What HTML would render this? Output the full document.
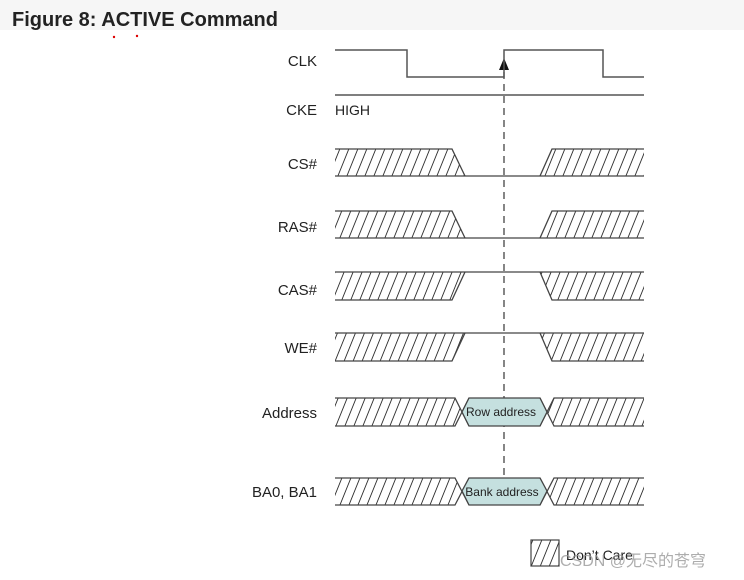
<!DOCTYPE html>
<html><head><meta charset="utf-8"><style>
html,body{margin:0;padding:0;background:#fff;width:744px;height:580px;overflow:hidden}
svg{display:block}
text{font-family:"Liberation Sans","Noto Sans CJK SC",sans-serif}
</style></head><body>
<svg width="744" height="580" viewBox="0 0 744 580" xmlns="http://www.w3.org/2000/svg">
<defs>
<pattern id="h" patternUnits="userSpaceOnUse" width="9" height="30" patternTransform="skewX(-22)">
<line x1="4" y1="0" x2="4" y2="30" stroke="#333" stroke-width="1"/>
</pattern>
</defs>
<rect width="744" height="30" fill="#f6f6f6"/>
<text x="12" y="26" font-size="20" font-weight="bold" fill="#222">Figure 8: ACTIVE Command</text>
<circle cx="114" cy="37" r="1.2" fill="#d00"/><circle cx="137" cy="36" r="1.2" fill="#d00"/>

<g font-size="15" fill="#222" text-anchor="end">
<text x="317" y="66">CLK</text>
<text x="317" y="115">CKE</text>
<text x="317" y="169">CS#</text>
<text x="317" y="232">RAS#</text>
<text x="317" y="295">CAS#</text>
<text x="317" y="353">WE#</text>
<text x="317" y="418">Address</text>
<text x="317" y="497">BA0, BA1</text>
</g>
<text x="335" y="115" font-size="14" fill="#222">HIGH</text>

<line x1="504" y1="60" x2="504" y2="478" stroke="#444" stroke-width="1.3" stroke-dasharray="7,5"/>
<polygon points="504,58 499,70 509,70" fill="#111"/>

<g stroke="#555" stroke-width="1.5" fill="none">
<polyline points="335,50 407,50 407,77 504,77 504,50 603,50 603,77 644,77"/>
<line x1="335" y1="95" x2="644" y2="95"/>
</g>

<g stroke="#444" stroke-width="1.3">
<path d="M335,149 L452,149 L465,176 L335,176 Z" fill="url(#h)" stroke="none"/>
<path d="M552,149 L644,149 L644,176 L540,176 Z" fill="url(#h)" stroke="none"/>
<polyline points="335,149 452,149 465,176" fill="none"/>
<line x1="335" y1="176" x2="644" y2="176"/>
<polyline points="540,176 552,149 644,149" fill="none"/>

<path d="M335,211 L452,211 L465,238 L335,238 Z" fill="url(#h)" stroke="none"/>
<path d="M552,211 L644,211 L644,238 L540,238 Z" fill="url(#h)" stroke="none"/>
<polyline points="335,211 452,211 465,238" fill="none"/>
<line x1="335" y1="238" x2="644" y2="238"/>
<polyline points="540,238 552,211 644,211" fill="none"/>

<path d="M335,272 L465,272 L452,300 L335,300 Z" fill="url(#h)" stroke="none"/>
<path d="M540,272 L644,272 L644,300 L552,300 Z" fill="url(#h)" stroke="none"/>
<line x1="335" y1="272" x2="644" y2="272"/>
<polyline points="335,300 452,300 465,272" fill="none"/>
<polyline points="540,272 552,300 644,300" fill="none"/>

<path d="M335,333 L465,333 L452,361 L335,361 Z" fill="url(#h)" stroke="none"/>
<path d="M540,333 L644,333 L644,361 L552,361 Z" fill="url(#h)" stroke="none"/>
<line x1="335" y1="333" x2="644" y2="333"/>
<polyline points="335,361 452,361 465,333" fill="none"/>
<polyline points="540,333 552,361 644,361" fill="none"/>

<path d="M335,398 L455,398 L462,412 L455,426 L335,426 Z" fill="url(#h)" stroke="none"/>
<path d="M554,398 L644,398 L644,426 L554,426 L547,412 Z" fill="url(#h)" stroke="none"/>
<polyline points="335,398 455,398 469,426" fill="none"/>
<polyline points="335,426 455,426 469,398" fill="none"/>
<polyline points="644,398 554,398 540,426" fill="none"/>
<polyline points="644,426 554,426 540,398" fill="none"/>
<polygon points="462,412 469,398 540,398 547,412 540,426 469,426" fill="#c5e0df"/>

<path d="M335,478 L455,478 L462,491 L455,505 L335,505 Z" fill="url(#h)" stroke="none"/>
<path d="M554,478 L644,478 L644,505 L554,505 L547,491 Z" fill="url(#h)" stroke="none"/>
<polyline points="335,478 455,478 469,505" fill="none"/>
<polyline points="335,505 455,505 469,478" fill="none"/>
<polyline points="644,478 554,478 540,505" fill="none"/>
<polyline points="644,505 554,505 540,478" fill="none"/>
<polygon points="462,491 469,478 540,478 547,491 540,505 469,505" fill="#c5e0df"/>
</g>

<text x="501" y="416" font-size="12" fill="#222" text-anchor="middle">Row address</text>
<text x="502" y="496" font-size="12" fill="#222" text-anchor="middle">Bank address</text>

<rect x="531" y="540" width="28" height="26" fill="url(#h)" stroke="#444" stroke-width="1.2"/>
<text x="566" y="560" font-size="14" fill="#222">Don’t Care</text>
<text x="560" y="566" font-size="16" fill="#999" opacity="0.8">CSDN @无尽的苍穹</text>
</svg>
</body></html>
